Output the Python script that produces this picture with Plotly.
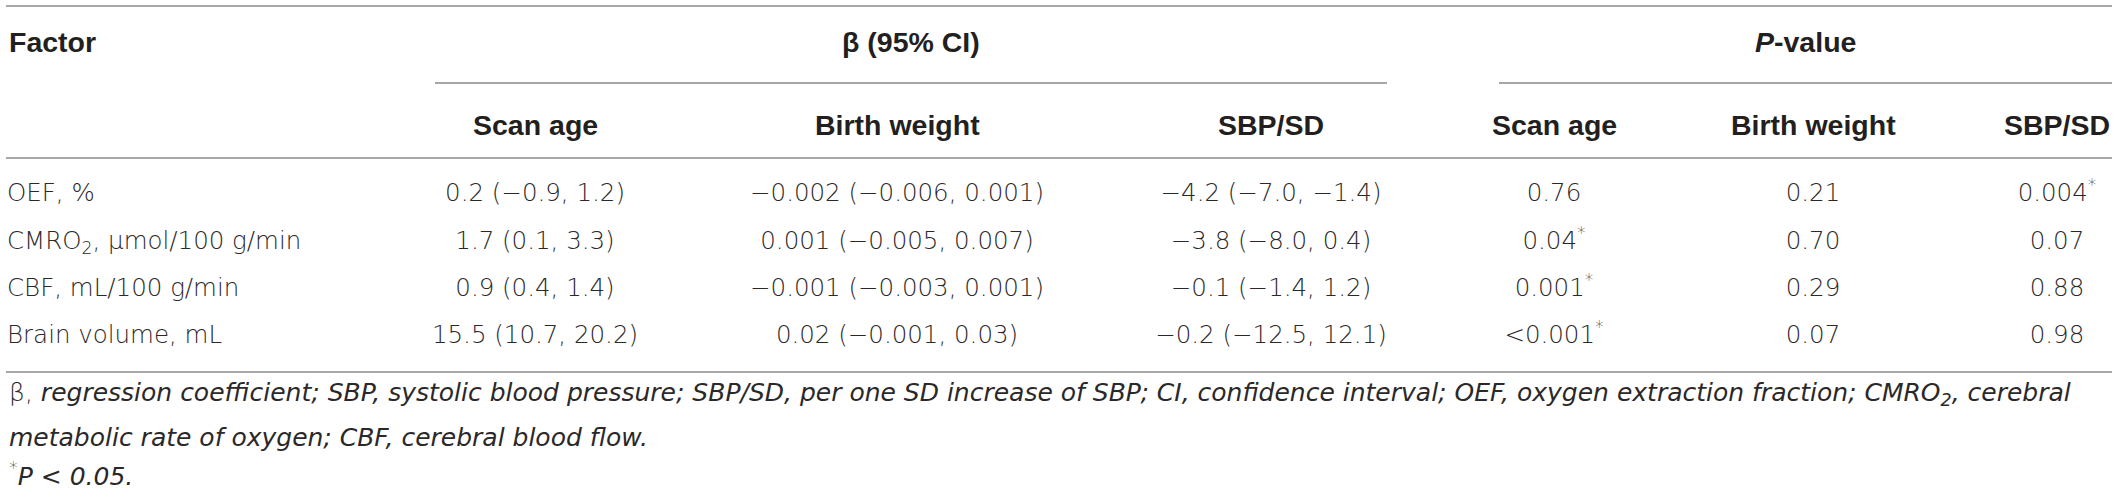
import plotly.graph_objects as go

# table content
factors = ["OEF, %", "CMRO<sub>2</sub>, μmol/100 g/min", "CBF, mL/100 g/min", "Brain volume, mL"]
group_labels = ["β (95% CI)", "<i>P</i>-value"]
sub_labels = ["Scan age", "Birth weight", "SBP/SD", "Scan age", "Birth weight", "SBP/SD"]

beta_scan_age = ["0.2 (−0.9, 1.2)", "1.7 (0.1, 3.3)", "0.9 (0.4, 1.4)", "15.5 (10.7, 20.2)"]
beta_birth_weight = ["−0.002 (−0.006, 0.001)", "0.001 (−0.005, 0.007)",
                     "−0.001 (−0.003, 0.001)", "0.02 (−0.001, 0.03)"]
beta_sbp_sd = ["−4.2 (−7.0, −1.4)", "−3.8 (−8.0, 0.4)", "−0.1 (−1.4, 1.2)", "−0.2 (−12.5, 12.1)"]
p_scan_age = ["0.76", "0.04*", "0.001*", "<0.001*"]
p_birth_weight = ["0.21", "0.70", "0.29", "0.07"]
p_sbp_sd = ["0.004*", "0.07", "0.88", "0.98"]

footnotes = [
    "β, <i>regression coefficient; SBP, systolic blood pressure; SBP/SD, per one SD increase of SBP; "
    "CI, confidence interval; OEF, oxygen extraction fraction; CMRO<sub>2</sub>, cerebral</i>",
    "<i>metabolic rate of oxygen; CBF, cerebral blood flow.</i>",
    "<sup>*</sup><i>P &lt; 0.05.</i>",
]

# layout (pixel space of the 2118x490 page)
W, H = 2118, 490
left, right = 7, 2112
col_x = [535, 897, 1271, 1554, 1813, 2057]
group_span = [(435, 1387), (1499, 2112)]
head_y, sub_y = 42, 125
row_y = [195, 243, 290, 337]
foot_y = [394, 437, 474]
line_top, line_group, line_head, line_body = 6, 83, 158, 372

TXT = "#2b2829"
LINE = "#8a8a8a"
body_font = dict(family="DejaVu Sans", size=24.5, color=TXT, weight=200)
head_font = dict(family="Liberation Sans", size=28.5, color="#231f20", weight="bold")
foot_font = dict(family="DejaVu Sans", size=25, color=TXT, weight=200)


def fmt(s):
    return s.replace("<", "&lt;").replace("*", "<sup>*</sup>")


columns = [beta_scan_age, beta_birth_weight, beta_sbp_sd, p_scan_age, p_birth_weight, p_sbp_sd]

fig = go.Figure()

# factor column
fig.add_trace(go.Scatter(x=[left] * len(factors), y=row_y, text=factors, mode="text",
                         textposition="middle right", textfont=body_font, hoverinfo="skip"))

# value columns
for cx, vals in zip(col_x, columns):
    fig.add_trace(go.Scatter(x=[cx] * len(vals), y=row_y, text=[fmt(v) for v in vals],
                             mode="text", textposition="middle center",
                             textfont=body_font, hoverinfo="skip"))

# headers
fig.add_annotation(x=left, y=head_y, text="Factor", showarrow=False, xanchor="left",
                   font=head_font)
for (x0, x1), lab in zip(group_span, group_labels):
    fig.add_annotation(x=(x0 + x1) / 2, y=head_y, text=lab, showarrow=False, font=head_font)
    fig.add_shape(type="line", x0=x0, x1=x1, y0=line_group, y1=line_group,
                  line=dict(color=LINE, width=1.5))
for cx, lab in zip(col_x, sub_labels):
    fig.add_annotation(x=cx, y=sub_y, text=lab, showarrow=False, font=head_font)

# rules
for yl in [line_top, line_head, line_body]:
    fig.add_shape(type="line", x0=left - 1, x1=right, y0=yl, y1=yl,
                  line=dict(color=LINE, width=1.5))

# footnotes
for fy, note in zip(foot_y, footnotes):
    fig.add_annotation(x=left, y=fy, text=note, showarrow=False, xanchor="left",
                       font=foot_font)

fig.update_layout(
    width=W, height=H,
    margin=dict(l=0, r=0, t=0, b=0),
    paper_bgcolor="white", plot_bgcolor="white",
    showlegend=False,
    xaxis=dict(range=[0, W], visible=False, fixedrange=True),
    yaxis=dict(range=[H, 0], visible=False, fixedrange=True),
)

fig.write_html("out.html", config={"displayModeBar": False},
               post_script="document.body.style.margin='0';document.body.style.overflow='hidden';")
